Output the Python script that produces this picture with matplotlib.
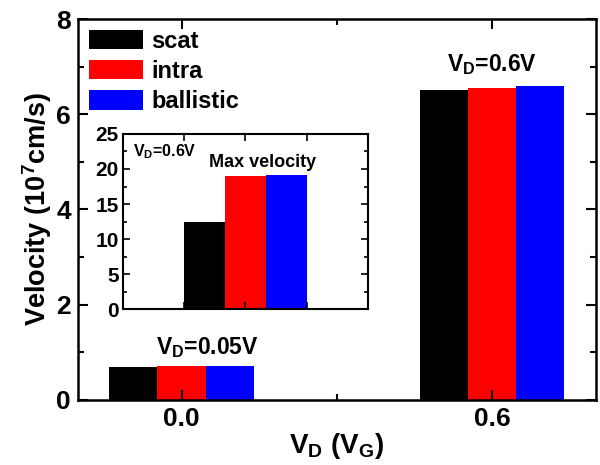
import numpy as np
import matplotlib
matplotlib.use("Agg")
import matplotlib.pyplot as plt
from matplotlib.ticker import MultipleLocator, FixedLocator

plt.rcParams['font.family'] = ['Liberation Sans', 'DejaVu Sans']
plt.rcParams['font.weight'] = 'bold'
plt.rcParams['mathtext.fontset'] = 'custom'
plt.rcParams['mathtext.rm'] = 'Liberation Sans:bold'
plt.rcParams['mathtext.it'] = 'Liberation Sans:bold'
plt.rcParams['mathtext.bf'] = 'Liberation Sans:bold'

# main chart data
vd = [0.0, 0.6]
xticklabels = ['0.0', '0.6']
scat = [0.69, 6.51]
intra = [0.71, 6.55]
ballistic = [0.72, 6.60]
series_names = ['scat', 'intra', 'ballistic']
colors = ['#000000', '#ff0000', '#0000ff']

# inset data (max velocity at VD=0.6V)
max_vel = [12.4, 19.0, 19.1]

fig = plt.figure(figsize=(6, 4.65), dpi=100)
ax = fig.add_axes([0.13, 0.140, 0.863, 0.819])

w = 0.093
x = np.array(vd)
for k, (vals, name, c) in enumerate(zip([scat, intra, ballistic], series_names, colors)):
    ax.bar(x + (k - 1) * w, vals, width=w, color=c, linewidth=0, label=name)

ax.set_xlim(-0.2, 0.8)
ax.set_ylim(0, 8)
ax.set_xticks(vd)
ax.set_xticklabels(xticklabels)
ax.xaxis.set_minor_locator(FixedLocator([0.3]))
ax.yaxis.set_major_locator(MultipleLocator(2))
ax.yaxis.set_minor_locator(MultipleLocator(1))
ax.tick_params(which='both', direction='in', top=True, right=True, width=1.5)
ax.tick_params(which='major', length=7, labelsize=19, pad=5)
ax.tick_params(which='minor', length=4)
for lab in ax.get_xticklabels() + ax.get_yticklabels():
    lab.set_fontweight('bold')
for s in ax.spines.values():
    s.set_linewidth(1.8)
ax.set_ylabel(r'Velocity (10$^\mathrm{7}$cm/s)', fontsize=19.5, fontweight='bold', labelpad=2)
ax.set_xlabel(r'V$_\mathrm{D}$ (V$_\mathrm{G}$)', fontsize=20, fontweight='bold', labelpad=0)

ax.text(0.05, 1.1, r'V$_\mathrm{D}$=0.05V', ha='center', va='center', fontsize=16.5, fontweight='bold')
ax.text(0.6, 7.05, r'V$_\mathrm{D}$=0.6V', ha='center', va='center', fontsize=16.5, fontweight='bold')

leg = ax.legend(loc='upper left', bbox_to_anchor=(0.0, 1.0), frameon=False,
                prop={'size': 17, 'weight': 'bold'}, handlelength=2.3, handleheight=0.9,
                handletextpad=0.35, labelspacing=0.3, borderaxespad=0.05)

# inset
axi = fig.add_axes([0.205, 0.335, 0.408, 0.377])
xi = np.array([2.0 - 2 / 3, 2.0, 2.0 + 2 / 3])
axi.bar(xi, max_vel, width=2 / 3, color=colors, linewidth=0)
axi.set_xlim(0, 4)
axi.set_ylim(0, 25)
axi.set_xticks([1, 2, 3])
axi.set_xticklabels([])
axi.yaxis.set_major_locator(MultipleLocator(5))
axi.yaxis.set_minor_locator(MultipleLocator(2.5))
axi.tick_params(which='both', direction='in', top=True, right=True, width=1.2)
axi.tick_params(which='major', length=5, labelsize=15, pad=3)
axi.tick_params(which='minor', length=3)
for lab in axi.get_yticklabels():
    lab.set_fontweight('bold')
for s in axi.spines.values():
    s.set_linewidth(1.5)
axi.text(0.04, 0.9, r'V$_\mathrm{D}$=0.6V', transform=axi.transAxes, ha='left', va='center',
         fontsize=11.5, fontweight='bold')
axi.text(2.28, 20.9, 'Max velocity', ha='center', va='center', fontsize=13, fontweight='bold')

fig.savefig('out.png', dpi=100)
